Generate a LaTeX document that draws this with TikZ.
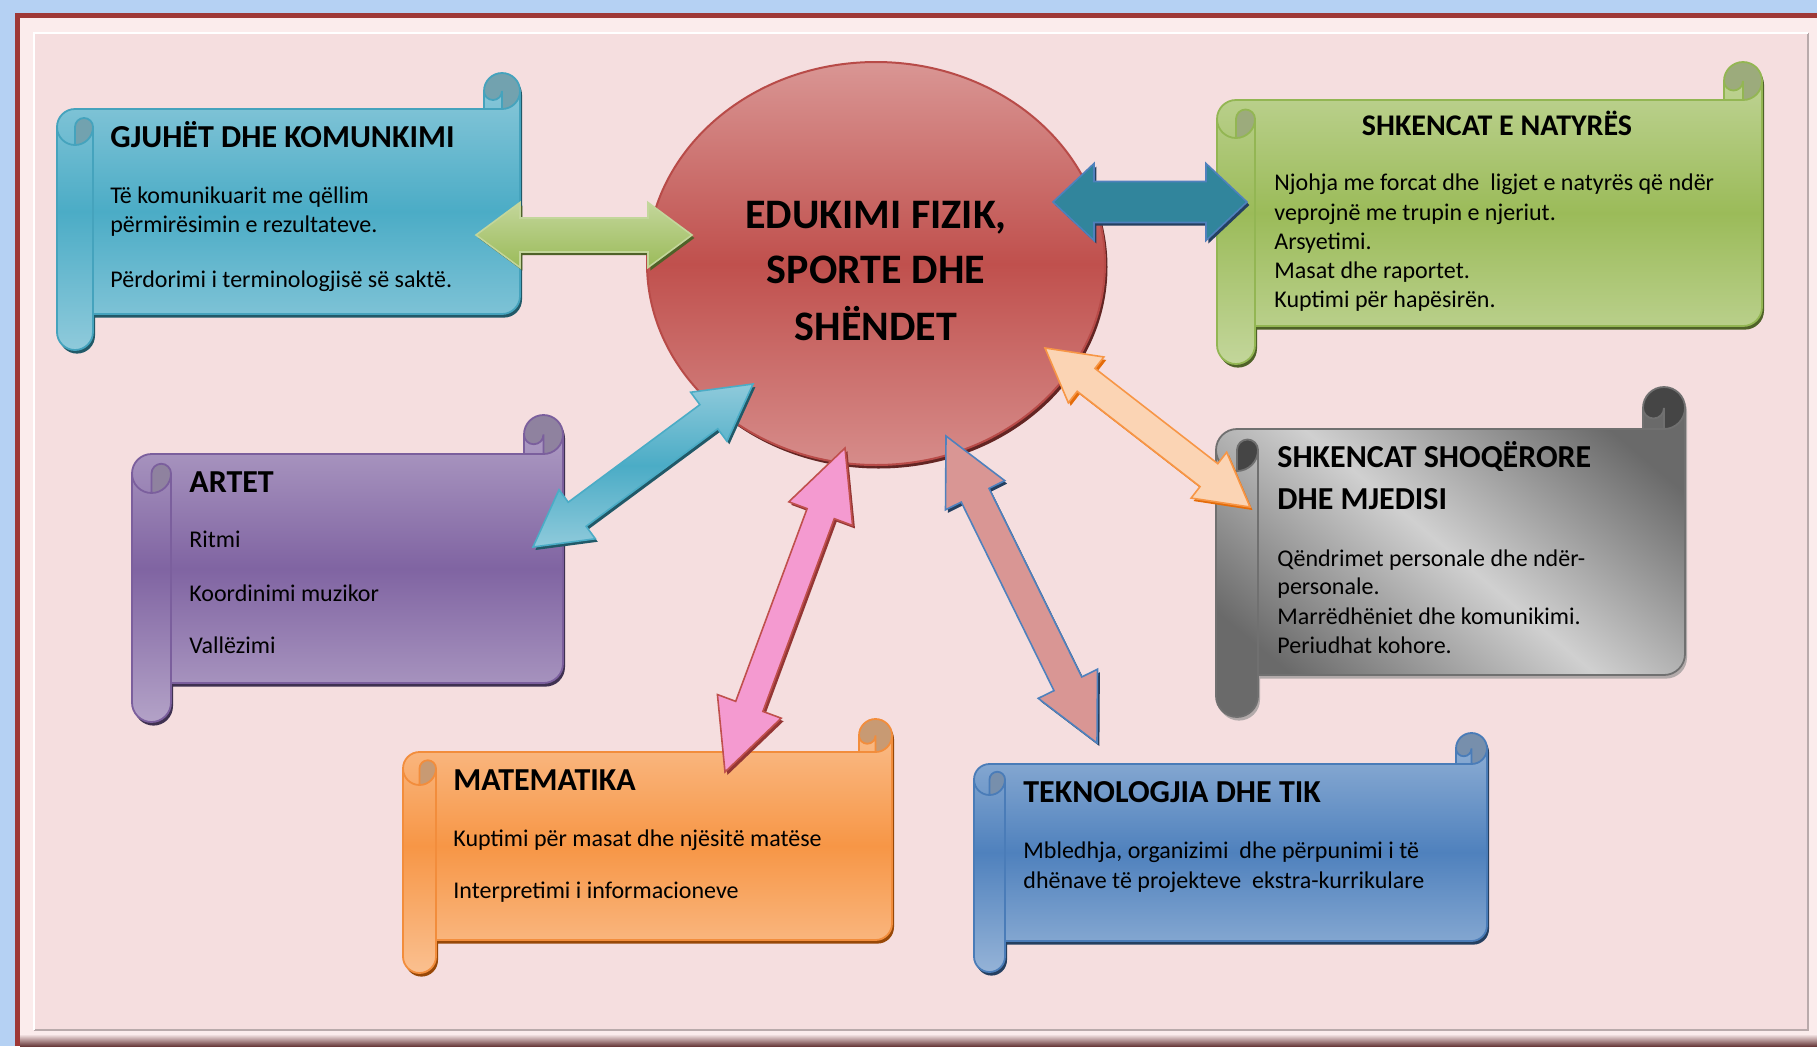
\documentclass[tikz,border=0pt]{standalone}
\usepackage{fontspec}
\setmainfont{Carlito}
\usetikzlibrary{positioning,shapes.geometric,calc}

\definecolor{paper}{HTML}{F5DEDF}
\definecolor{frameblue}{HTML}{B5D1F3}
\definecolor{framebevel}{HTML}{FBECEC}
\definecolor{framered}{HTML}{9E3836}
\definecolor{framegrey}{HTML}{B9AAAB}
\definecolor{framedark}{HTML}{6A3B3C}

\definecolor{aquaL}{HTML}{8FCADB}
\definecolor{aquaM}{HTML}{4BACC6}
\definecolor{aquaO}{HTML}{45A3BD}
\definecolor{aquaC}{HTML}{72A2AF}
\definecolor{aquaD}{HTML}{215968}
\definecolor{greenL}{HTML}{C3D69B}
\definecolor{greenM}{HTML}{9BBB59}
\definecolor{greenO}{HTML}{93B653}
\definecolor{greenC}{HTML}{9CAB7C}
\definecolor{greenD}{HTML}{4F6228}
\definecolor{greyL}{HTML}{D0D0D0}
\definecolor{greyM}{HTML}{6A6A6A}
\definecolor{greyO}{HTML}{707070}
\definecolor{greyC}{HTML}{454545}
\definecolor{greyD}{HTML}{B2AAAA}
\definecolor{purpL}{HTML}{B3A2C7}
\definecolor{purpM}{HTML}{8064A2}
\definecolor{purpO}{HTML}{7B5F9D}
\definecolor{purpC}{HTML}{8F829F}
\definecolor{purpD}{HTML}{3F3151}
\definecolor{orngL}{HTML}{FAC090}
\definecolor{orngM}{HTML}{F79646}
\definecolor{orngO}{HTML}{F28D3C}
\definecolor{orngC}{HTML}{C89A73}
\definecolor{orngD}{HTML}{984807}
\definecolor{blueL}{HTML}{95B3D7}
\definecolor{blueM}{HTML}{4F81BD}
\definecolor{blueO}{HTML}{4A7CB8}
\definecolor{blueC}{HTML}{778FAC}
\definecolor{blueD}{HTML}{243F60}
\definecolor{hubL}{HTML}{D99694}
\definecolor{hubM}{HTML}{C0504D}
\definecolor{hubB}{HTML}{D68C8A}
\definecolor{hubO}{HTML}{B84B48}
\definecolor{hubS}{HTML}{632523}

% horizontal scroll: left, top, right, bottom, roll size, colour prefix
\newcommand{\hscroll}[6]{%
  \pgfmathsetmacro{\sa}{#1+#5/2}%
  \pgfmathsetmacro{\sb}{#1+#5}%
  \pgfmathsetmacro{\sc}{#3-#5}%
  \pgfmathsetmacro{\sd}{#3-#5/2}%
  \pgfmathsetmacro{\se}{#2+#5/2}%
  \pgfmathsetmacro{\sf}{#2+#5}%
  \pgfmathsetmacro{\sg}{#2+1.5*#5}%
  \pgfmathsetmacro{\sh}{#2+2*#5}%
  \pgfmathsetmacro{\si}{#4-1.5*#5}%
  \pgfmathsetmacro{\sj}{#4-#5}%
  \pgfmathsetmacro{\sk}{#4-#5/2}%
  \pgfmathsetmacro{\sr}{#5/2}%
  \pgfmathsetmacro{\sq}{#5/4}%
  \def\scrollpath{(#1,\sg) arc[start angle=180,delta angle=90,radius=\sr]
    -- (\sc,\sf) -- (\sc,\se) arc[start angle=180,delta angle=180,radius=\sr]
    -- (#3,\si) arc[start angle=0,delta angle=90,radius=\sr]
    -- (\sb,\sj) -- (\sb,\sk) arc[start angle=0,delta angle=180,radius=\sr] -- cycle}%
  \fill[#6D,transform canvas={shift={(1pt,-1.8pt)}}] \scrollpath;
  \path[#6fill] \scrollpath;
  \fill[#6C] (\sa,\sh) arc[start angle=90,delta angle=-90,radius=\sr]
    arc[start angle=0,delta angle=-180,radius=\sq] -- cycle;
  \fill[#6C] (\sd,\sf) arc[start angle=90,delta angle=-270,radius=\sr]
    arc[start angle=180,delta angle=-180,radius=\sq] -- cycle;
  \draw[#6O,line width=0.9pt,line join=round] \scrollpath;
  \draw[#6O,line width=0.9pt] (\sc,\sf) -- (\sd,\sf) arc[start angle=90,delta angle=-90,radius=\sr]
    (\sd,\sf) -- (\sd,\se) arc[start angle=0,delta angle=180,radius=\sq]
    (\sa,\sh) -- (\sa,\sg) arc[start angle=180,delta angle=180,radius=\sq]
    arc[start angle=0,delta angle=180,radius=\sr]
    (\sb,\sg) -- (\sb,\sj);
}

% double block arrow: end, end, half shaft, half head, head length, style
\newcommand{\dblarrow}[6]{%
  \def\arrowpath{(#1)
    -- ($(#1)!#5!(#2)!#4!90:(#2)$) -- ($(#1)!#5!(#2)!#3!90:(#2)$)
    -- ($(#2)!#5!(#1)!#3!-90:(#1)$) -- ($(#2)!#5!(#1)!#4!-90:(#1)$)
    -- (#2)
    -- ($(#2)!#5!(#1)!#4!90:(#1)$) -- ($(#2)!#5!(#1)!#3!90:(#1)$)
    -- ($(#1)!#5!(#2)!#3!-90:(#2)$) -- ($(#1)!#5!(#2)!#4!-90:(#2)$) -- cycle}%
  \fill[#6S,transform canvas={shift={(1.2pt,-1.5pt)}}] \arrowpath;
  \path[#6,line width=0.8pt] \arrowpath;
}

\begin{document}
\begin{tikzpicture}[x=0.5pt,y=-0.5pt,
aquafill/.style={top color=aquaL, bottom color=aquaL, middle color=aquaM},
greenfill/.style={top color=greenL, bottom color=greenL, middle color=greenM},
greyfill/.style={top color=greyM, bottom color=greyM, middle color=greyL, shading angle=-40},
purpfill/.style={top color=purpL, bottom color=purpL, middle color=purpM},
orngfill/.style={top color=orngL, bottom color=orngL, middle color=orngM},
bluefill/.style={top color=blueL, bottom color=blueL, middle color=blueM},
grnA/.style={draw=greenL, top color=greenL, bottom color=greenM},
grnAS/.style={fill=greenD},
bluA/.style={draw=blueM, fill={rgb,255:red,49;green,133;blue,156}},
bluAS/.style={fill=blueD},
pchA/.style={draw=orngM, fill={rgb,255:red,251;green,212;blue,180}},
pchAS/.style={fill={rgb,255:red,228;green,108;blue,10}},
tealA/.style={draw=aquaM, top color=aquaL, bottom color=aquaL, middle color=aquaM},
tealAS/.style={fill=aquaD},
pinkA/.style={draw=hubM, fill={rgb,255:red,244;green,154;blue,208}},
pinkAS/.style={fill={rgb,255:red,148;green,54;blue,52}},
salmA/.style={draw=blueM, fill=hubL},
salmAS/.style={fill=blueD},
hub/.style={ellipse, draw=hubO, line width=1pt, top color=hubL, bottom color=hubB,
  middle color=hubM, minimum width=229pt, minimum height=201.5pt, inner sep=0pt},
hubtxt/.style={anchor=base, inner sep=0pt, font=\fontsize{21}{24}\selectfont\bfseries},
ttl/.style={anchor=base west, inner sep=0pt, font=\fontsize{16}{18}\selectfont\bfseries},
txt/.style={anchor=base west, inner sep=0pt, font=\fontsize{12}{14}\selectfont},
]
\useasboundingbox (0,0) rectangle (1817,1046);

%Frame
\fill[frameblue] (0,0) rectangle (1817,1046);
\fill[framebevel] (15,13) rectangle (1817,1046);
\draw[framered, line width=2.5pt] (17,1046) -- (17,15) -- (1817,15);
\fill[top color=framebevel, bottom color=framedark] (20,1034) rectangle (1817,1046);
\fill[paper] (34,33) rectangle (1808,1030);
\draw[framegrey, line width=0.8pt] (34,1030) -- (1808,1030) -- (1808,33);
\draw[white, line width=0.8pt] (34,1030) -- (34,33) -- (1808,33);

%Scrolls
\hscroll{57}{73}{520}{350}{36}{aqua}
\hscroll{1217}{62}{1762}{364}{38}{green}
\hscroll{1216}{387}{1685}{717}{42}{grey}
\hscroll{132}{415}{563}{722}{39}{purp}
\hscroll{403}{719}{892}{973}{33}{orng}
\hscroll{974}{733}{1487}{972}{31}{blue}

%Centre
\fill[hubS] (878.5,267) ellipse [x radius=229, y radius=201.5];
\node[hub] (hub) at (876,263.5) {};

%Arrow ends
\coordinate (gjuheTip) at (476,235);
\coordinate (hubW) at (692,235);
\coordinate (hubE) at (1053,202);
\coordinate (natyraTip) at (1247,202);
\coordinate (hubSE) at (1045,348);
\coordinate (shoqTip) at (1250,507);
\coordinate (hubSW) at (753,384);
\coordinate (arteTip) at (533,547);
\coordinate (hubS) at (845,448);
\coordinate (mateTip) at (725,772);
\coordinate (hubSSE) at (946,436);
\coordinate (tikTip) at (1097,743);

%Arrows
\dblarrow{gjuheTip}{hubW}{8.5pt}{16.25pt}{22pt}{grnA}
\dblarrow{hubE}{natyraTip}{10.25pt}{19.25pt}{20.5pt}{bluA}
\dblarrow{hubSE}{shoqTip}{7.25pt}{14.5pt}{26pt}{pchA}
\dblarrow{hubSW}{arteTip}{7.5pt}{15.25pt}{27.5pt}{tealA}
\dblarrow{hubS}{mateTip}{7.25pt}{17pt}{35pt}{pinkA}
\dblarrow{hubSSE}{tikTip}{7.75pt}{16.5pt}{33pt}{salmA}

%Centre text
\node[hubtxt] (hub1) at (876,228) {EDUKIMI FIZIK,};
\node[hubtxt] (hub2) at (876,283) {SPORTE DHE};
\node[hubtxt] (hub3) at (876,340) {SHËNDET};

%Gjuhet
\node[ttl] (gjT) at (110,147) {GJUHËT DHE KOMUNKIMI};
\node[txt] (gj1) at (110,203) {Të komunikuarit me qëllim};
\node[txt] (gj2) at (110,232) {përmirësimin e rezultateve.};
\node[txt] (gj3) at (110,287) {Përdorimi i terminologjisë së saktë.};

%Natyra
\node[ttl, anchor=base, font=\fontsize{15}{18}\selectfont\bfseries] (naT) at (1497,135) {SHKENCAT E NATYRËS};
\node[txt] (na1) at (1274,190) {Njohja me forcat dhe~~ligjet e natyrës që ndër};
\node[txt] (na2) at (1274,220) {veprojnë me trupin e njeriut.};
\node[txt] (na3) at (1274,249) {Arsyetimi.};
\node[txt] (na4) at (1274,278) {Masat dhe raportet.};
\node[txt] (na5) at (1274,307) {Kuptimi për hapësirën.};

%Shoqerore
\node[ttl] (shT1) at (1277,467) {SHKENCAT SHOQËRORE};
\node[ttl] (shT2) at (1277,509) {DHE MJEDISI};
\node[txt] (sh1) at (1277,566) {Qëndrimet personale dhe ndër-};
\node[txt] (sh2) at (1277,594) {personale.};
\node[txt] (sh3) at (1277,624) {Marrëdhëniet dhe komunikimi.};
\node[txt] (sh4) at (1277,653) {Periudhat kohore.};

%Artet
\node[ttl] (arT) at (189,492) {ARTET};
\node[txt] (ar1) at (189,547) {Ritmi};
\node[txt] (ar2) at (189,601) {Koordinimi muzikor};
\node[txt] (ar3) at (189,653) {Vallëzimi};

%Matematika
\node[ttl] (maT) at (453,790) {MATEMATIKA};
\node[txt] (ma1) at (453,846) {Kuptimi për masat dhe njësitë matëse};
\node[txt] (ma2) at (453,898) {Interpretimi i informacioneve};

%Teknologjia
\node[ttl] (teT) at (1023,802) {TEKNOLOGJIA DHE TIK};
\node[txt] (te1) at (1023,858) {Mbledhja, organizimi~~dhe përpunimi i të};
\node[txt] (te2) at (1023,888) {dhënave të projekteve~~ekstra-kurrikulare};
\end{tikzpicture}
\end{document}
